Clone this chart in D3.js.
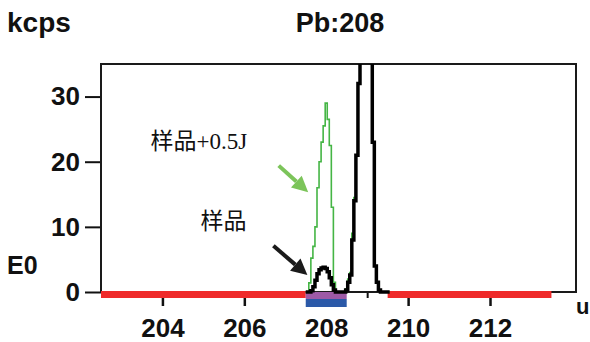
<!DOCTYPE html>
<html>
<head>
<meta charset="utf-8">
<script src="https://cdn.jsdelivr.net/npm/d3@7"></script>
<style>
  body { margin: 0; background: #fff; }
  svg text { font-family: "Liberation Sans", Arial, sans-serif; font-weight: bold; fill: #111; }
</style>
</head>
<body>
<svg id="chart" width="590" height="342"></svg>
<script>
const width = 590;
const height = 342;

const margin = {top: 64, right: 14, bottom: 50, left: 101};

// mass axis (u) of the scan
const masses = [207.50, 207.55, 207.60, 207.65, 207.70, 207.75, 207.80, 207.85, 207.90, 207.95,
                208.00, 208.05, 208.10, 208.15, 208.20, 208.25, 208.30, 208.35, 208.40, 208.45,
                208.50, 208.55, 208.60, 208.65, 208.70, 208.75, 208.80, 208.85, 208.90, 208.95,
                209.00, 209.05, 209.10, 209.15, 209.20, 209.25, 209.30, 209.35, 209.40, 209.45,
                209.50, 209.55];

// 样品 (black)
const sample = [0, 0, 0, 0.2, 0.8, 1.8, 2.8, 3.4, 3.7, 3.8,
                3.6, 3.1, 2.2, 1.1, 0.3, 0, 0, 0, 0, 0,
                0.3, 1.5, 2.6, 8, 14, 21, 32, 44, 55, 60,
                58, 50, 38, 23, 4, 1.5, 0.3, 0, 0, 0,
                0, 0];

// 样品+0.5J (green)
const spiked = [0, 0, 1.4, 5.2, 7, 10, 16, 20, 23, 25.5,
                29, 26.5, 22.5, 13, 1.5, 0, 0, 0, 0, 0,
                0.5, 2, 3, 9, 14.5, 21, 32, 44, 55, 60,
                58, 50, 38, 23, 4, 1.5, 0.3, 0, 0, 0,
                0, 0];

const xDomain = [202.5, 214.1];
const yDomain = [0, 35];
const xMajorTicks = [204, 206, 208, 210, 212];
const xMinorTicks = [203, 204, 205, 206, 207, 208, 209, 210, 211, 212, 213];
const yTicks = [0, 10, 20, 30];

// background (red) and peak integration (purple/blue) windows
const bgWindows = [[202.5, 207.5], [209.5, 213.5]];
const peakWindow = [207.5, 208.5];

// annotations: label text and arrows in data units
const labels = [
  {text: "样品+0.5J", u: 203.71, v: 21.9},
  {text: "样品", u: 204.93, v: 9.6}
];
const arrows = [
  {from: [206.84, 19.4], to: [207.56, 15.3], color: "#7cc45a", w: 4},
  {from: [206.71, 7.1], to: [207.54, 2.6], color: "#1a1a1a", w: 4}
];

const svg = d3.select("#chart");
const chartWidth = width - margin.left - margin.right;
const chartHeight = height - margin.top - margin.bottom;

const g = svg.append("g")
    .attr("transform", `translate(${margin.left},${margin.top})`);

const x = d3.scaleLinear().domain(xDomain).range([0, chartWidth]);
const y = d3.scaleLinear().domain(yDomain).range([chartHeight, 0]);

// axes
const xMinor = g.append("g")
    .attr("transform", `translate(0,${chartHeight})`)
    .call(d3.axisBottom(x).tickValues(xMinorTicks).tickSize(6).tickSizeOuter(0).tickFormat(""));
xMinor.select(".domain").remove();
xMinor.selectAll("line").attr("stroke", "#111").attr("stroke-width", 2);

const xAxis = g.append("g")
    .attr("transform", `translate(0,${chartHeight})`)
    .call(d3.axisBottom(x).tickValues(xMajorTicks).tickSize(14).tickSizeOuter(0).tickPadding(13));
xAxis.select(".domain").remove();
xAxis.selectAll("line").attr("stroke", "#111").attr("stroke-width", 2.5);
xAxis.selectAll("text").attr("font-size", 26).attr("fill", "#111");

const yAxis = g.append("g")
    .call(d3.axisLeft(y).tickValues(yTicks).tickSize(16).tickSizeOuter(0).tickPadding(5));
yAxis.select(".domain").remove();
yAxis.selectAll("line").attr("stroke", "#111").attr("stroke-width", 2);
yAxis.selectAll("text").attr("font-size", 26).attr("fill", "#111");

// frame
g.append("rect")
    .attr("x", 0).attr("y", 0)
    .attr("width", chartWidth).attr("height", chartHeight)
    .attr("fill", "none").attr("stroke", "#1a1a1a").attr("stroke-width", 2);

// windows under the baseline
g.selectAll("rect.bg")
    .data(bgWindows)
    .enter()
    .append("rect")
    .attr("class", "bg")
    .attr("x", d => x(d[0]))
    .attr("y", y(0) - 1)
    .attr("width", d => x(d[1]) - x(d[0]))
    .attr("height", 7)
    .attr("fill", "#ef2a2a");

g.append("rect")
    .attr("x", x(peakWindow[0]))
    .attr("y", y(0))
    .attr("width", x(peakWindow[1]) - x(peakWindow[0]))
    .attr("height", 7)
    .attr("fill", "#9d5aa6");

g.append("rect")
    .attr("x", x(peakWindow[0]))
    .attr("y", y(0) + 7)
    .attr("width", x(peakWindow[1]) - x(peakWindow[0]))
    .attr("height", 8)
    .attr("fill", "#2b59a8");

// spectra
svg.append("defs").append("clipPath")
    .attr("id", "plot-clip")
    .append("rect")
    .attr("x", 0).attr("y", 0)
    .attr("width", chartWidth).attr("height", chartHeight + 4);

const line = d3.line()
    .x(d => x(d[0]))
    .y(d => y(d[1]))
    .curve(d3.curveStep);

const plot = g.append("g").attr("clip-path", "url(#plot-clip)");

plot.append("path")
    .datum(masses.map((m, i) => [m, spiked[i]]))
    .attr("d", line)
    .attr("fill", "none")
    .attr("stroke", "#45b545")
    .attr("stroke-width", 1.6);

plot.append("path")
    .datum(masses.map((m, i) => [m, sample[i]]))
    .attr("d", line)
    .attr("fill", "none")
    .attr("stroke", "#000")
    .attr("stroke-width", 3.5)
    .attr("stroke-linejoin", "miter");

// arrows
arrows.forEach(a => {
  const x0 = x(a.from[0]), y0 = y(a.from[1]);
  const x1 = x(a.to[0]), y1 = y(a.to[1]);
  const ang = Math.atan2(y1 - y0, x1 - x0);
  const headLen = 16, headW = 8;
  const bx = x1 - headLen * Math.cos(ang), by = y1 - headLen * Math.sin(ang);
  g.append("line")
      .attr("x1", x0).attr("y1", y0)
      .attr("x2", bx).attr("y2", by)
      .attr("stroke", a.color)
      .attr("stroke-width", a.w);
  const px = -Math.sin(ang), py = Math.cos(ang);
  g.append("path")
      .attr("d", `M${x1},${y1}L${bx + px * headW},${by + py * headW}L${bx - px * headW},${by - py * headW}Z`)
      .attr("fill", a.color);
});

// labels
g.selectAll("text.note")
    .data(labels)
    .enter()
    .append("text")
    .attr("class", "note")
    .attr("x", d => x(d.u))
    .attr("y", d => y(d.v))
    .style("font-family", "'Liberation Serif', 'Noto Sans CJK SC', serif")
    .style("font-weight", "normal")
    .attr("font-size", 23)
    .attr("fill", "#222")
    .text(d => d.text);

// titles
svg.append("text")
    .attr("x", 7).attr("y", 32)
    .attr("font-size", 28)
    .text("kcps");

svg.append("text")
    .attr("x", 340).attr("y", 32)
    .attr("text-anchor", "middle")
    .attr("font-size", 27)
    .text("Pb:208");

svg.append("text")
    .attr("x", 7).attr("y", 274)
    .attr("font-size", 25)
    .text("E0");

svg.append("text")
    .attr("x", 576).attr("y", 314)
    .attr("font-size", 22)
    .text("u");
</script>
</body>
</html>
